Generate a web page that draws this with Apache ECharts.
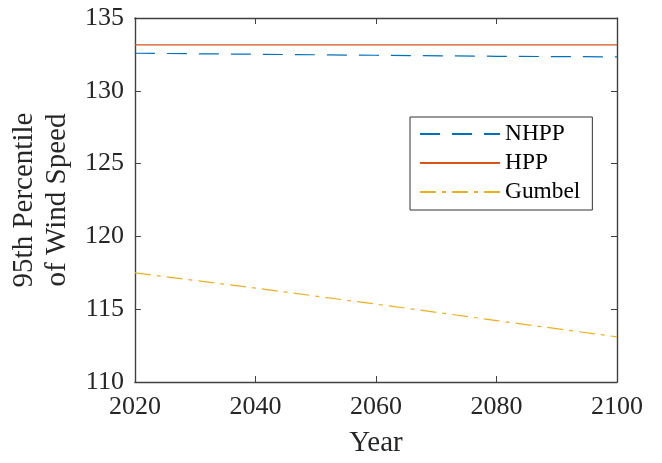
<!DOCTYPE html>
<html>
<head>
<meta charset="utf-8">
<script src="https://cdn.jsdelivr.net/npm/echarts@6/dist/echarts.min.js"></script>
<style>
  html, body { margin: 0; padding: 0; background: #fff; }
  #chart { width: 662px; height: 463px; }
</style>
</head>
<body>
<div id="chart"></div>
<script>
// Projection years and the 95th percentile of wind speed for each model
const years = [2020, 2040, 2060, 2080, 2100];
const nhpp = [132.58, 132.51, 132.44, 132.37, 132.33];
const hpp = [133.15, 133.15, 133.15, 133.15, 133.15];
const gumbel = [117.5, 116.45, 115.35, 114.22, 113.1];
const seriesNames = ['NHPP', 'HPP', 'Gumbel'];

const FONT = "'Liberation Serif', 'Times New Roman', serif";
const AXIS = '#404040';

function pairs(xs, ys) { return xs.map((x, i) => [x, ys[i]]); }

const chart = echarts.init(document.getElementById('chart'));

const axisCommon = {
  axisLine: { show: true, onZero: false, lineStyle: { color: AXIS, width: 1.4 } },
  axisTick: { show: true, inside: true, length: 6, lineStyle: { color: AXIS, width: 1 } },
  splitLine: { show: false }
};

chart.setOption({
  animation: false,
  backgroundColor: '#fff',
  grid: { left: 134, right: 45, top: 18, bottom: 81 },
  legend: {
    orient: 'vertical',
    left: 410,
    top: 117,
    data: seriesNames,
    itemWidth: 80,
    itemHeight: 14,
    itemGap: 5,
    padding: [5, 12, 6, 9],
    borderColor: '#333',
    borderWidth: 1,
    backgroundColor: '#fff',
    itemStyle: { opacity: 0 },
    textStyle: { fontFamily: FONT, fontSize: 23.4, color: '#000', lineHeight: 24 }
  },
  xAxis: [
    Object.assign({}, axisCommon, {
      type: 'value', min: 2020, max: 2100, interval: 20, position: 'bottom',
      name: 'Year', nameLocation: 'middle', nameGap: 47,
      nameTextStyle: { fontFamily: FONT, fontSize: 29, color: '#262626' },
      axisLabel: { fontFamily: FONT, fontSize: 26, color: '#262626', margin: 12, formatter: v => String(v) }
    }),
    Object.assign({}, axisCommon, {
      type: 'value', min: 2020, max: 2100, interval: 20, position: 'top',
      axisLabel: { show: false }
    })
  ],
  yAxis: [
    Object.assign({}, axisCommon, {
      type: 'value', min: 110, max: 135, interval: 5, position: 'left',
      name: '95th Percentile\nof Wind Speed', nameLocation: 'middle', nameGap: 50,
      nameTextStyle: { fontFamily: FONT, fontSize: 29, color: '#262626', lineHeight: 33 },
      axisLabel: { fontFamily: FONT, fontSize: 26, color: '#262626', margin: 11 }
    }),
    Object.assign({}, axisCommon, {
      type: 'value', min: 110, max: 135, interval: 5, position: 'right',
      axisLabel: { show: false }
    })
  ],
  series: [
    {
      name: 'NHPP', type: 'line', data: pairs(years, nhpp), showSymbol: false, symbol: 'none',
      lineStyle: { color: '#0072BD', width: 1.2, type: [20, 12] }, itemStyle: { color: '#0072BD' }
    },
    {
      name: 'HPP', type: 'line', data: pairs(years, hpp), showSymbol: false, symbol: 'none',
      lineStyle: { color: '#D95319', width: 1.2, type: 'solid' }, itemStyle: { color: '#D95319' }
    },
    {
      name: 'Gumbel', type: 'line', data: pairs(years, gumbel), showSymbol: false, symbol: 'none',
      lineStyle: { color: '#EDB120', width: 1.2, type: [16, 6, 4, 6] }, itemStyle: { color: '#EDB120' }
    }
  ]
});
</script>
</body>
</html>
